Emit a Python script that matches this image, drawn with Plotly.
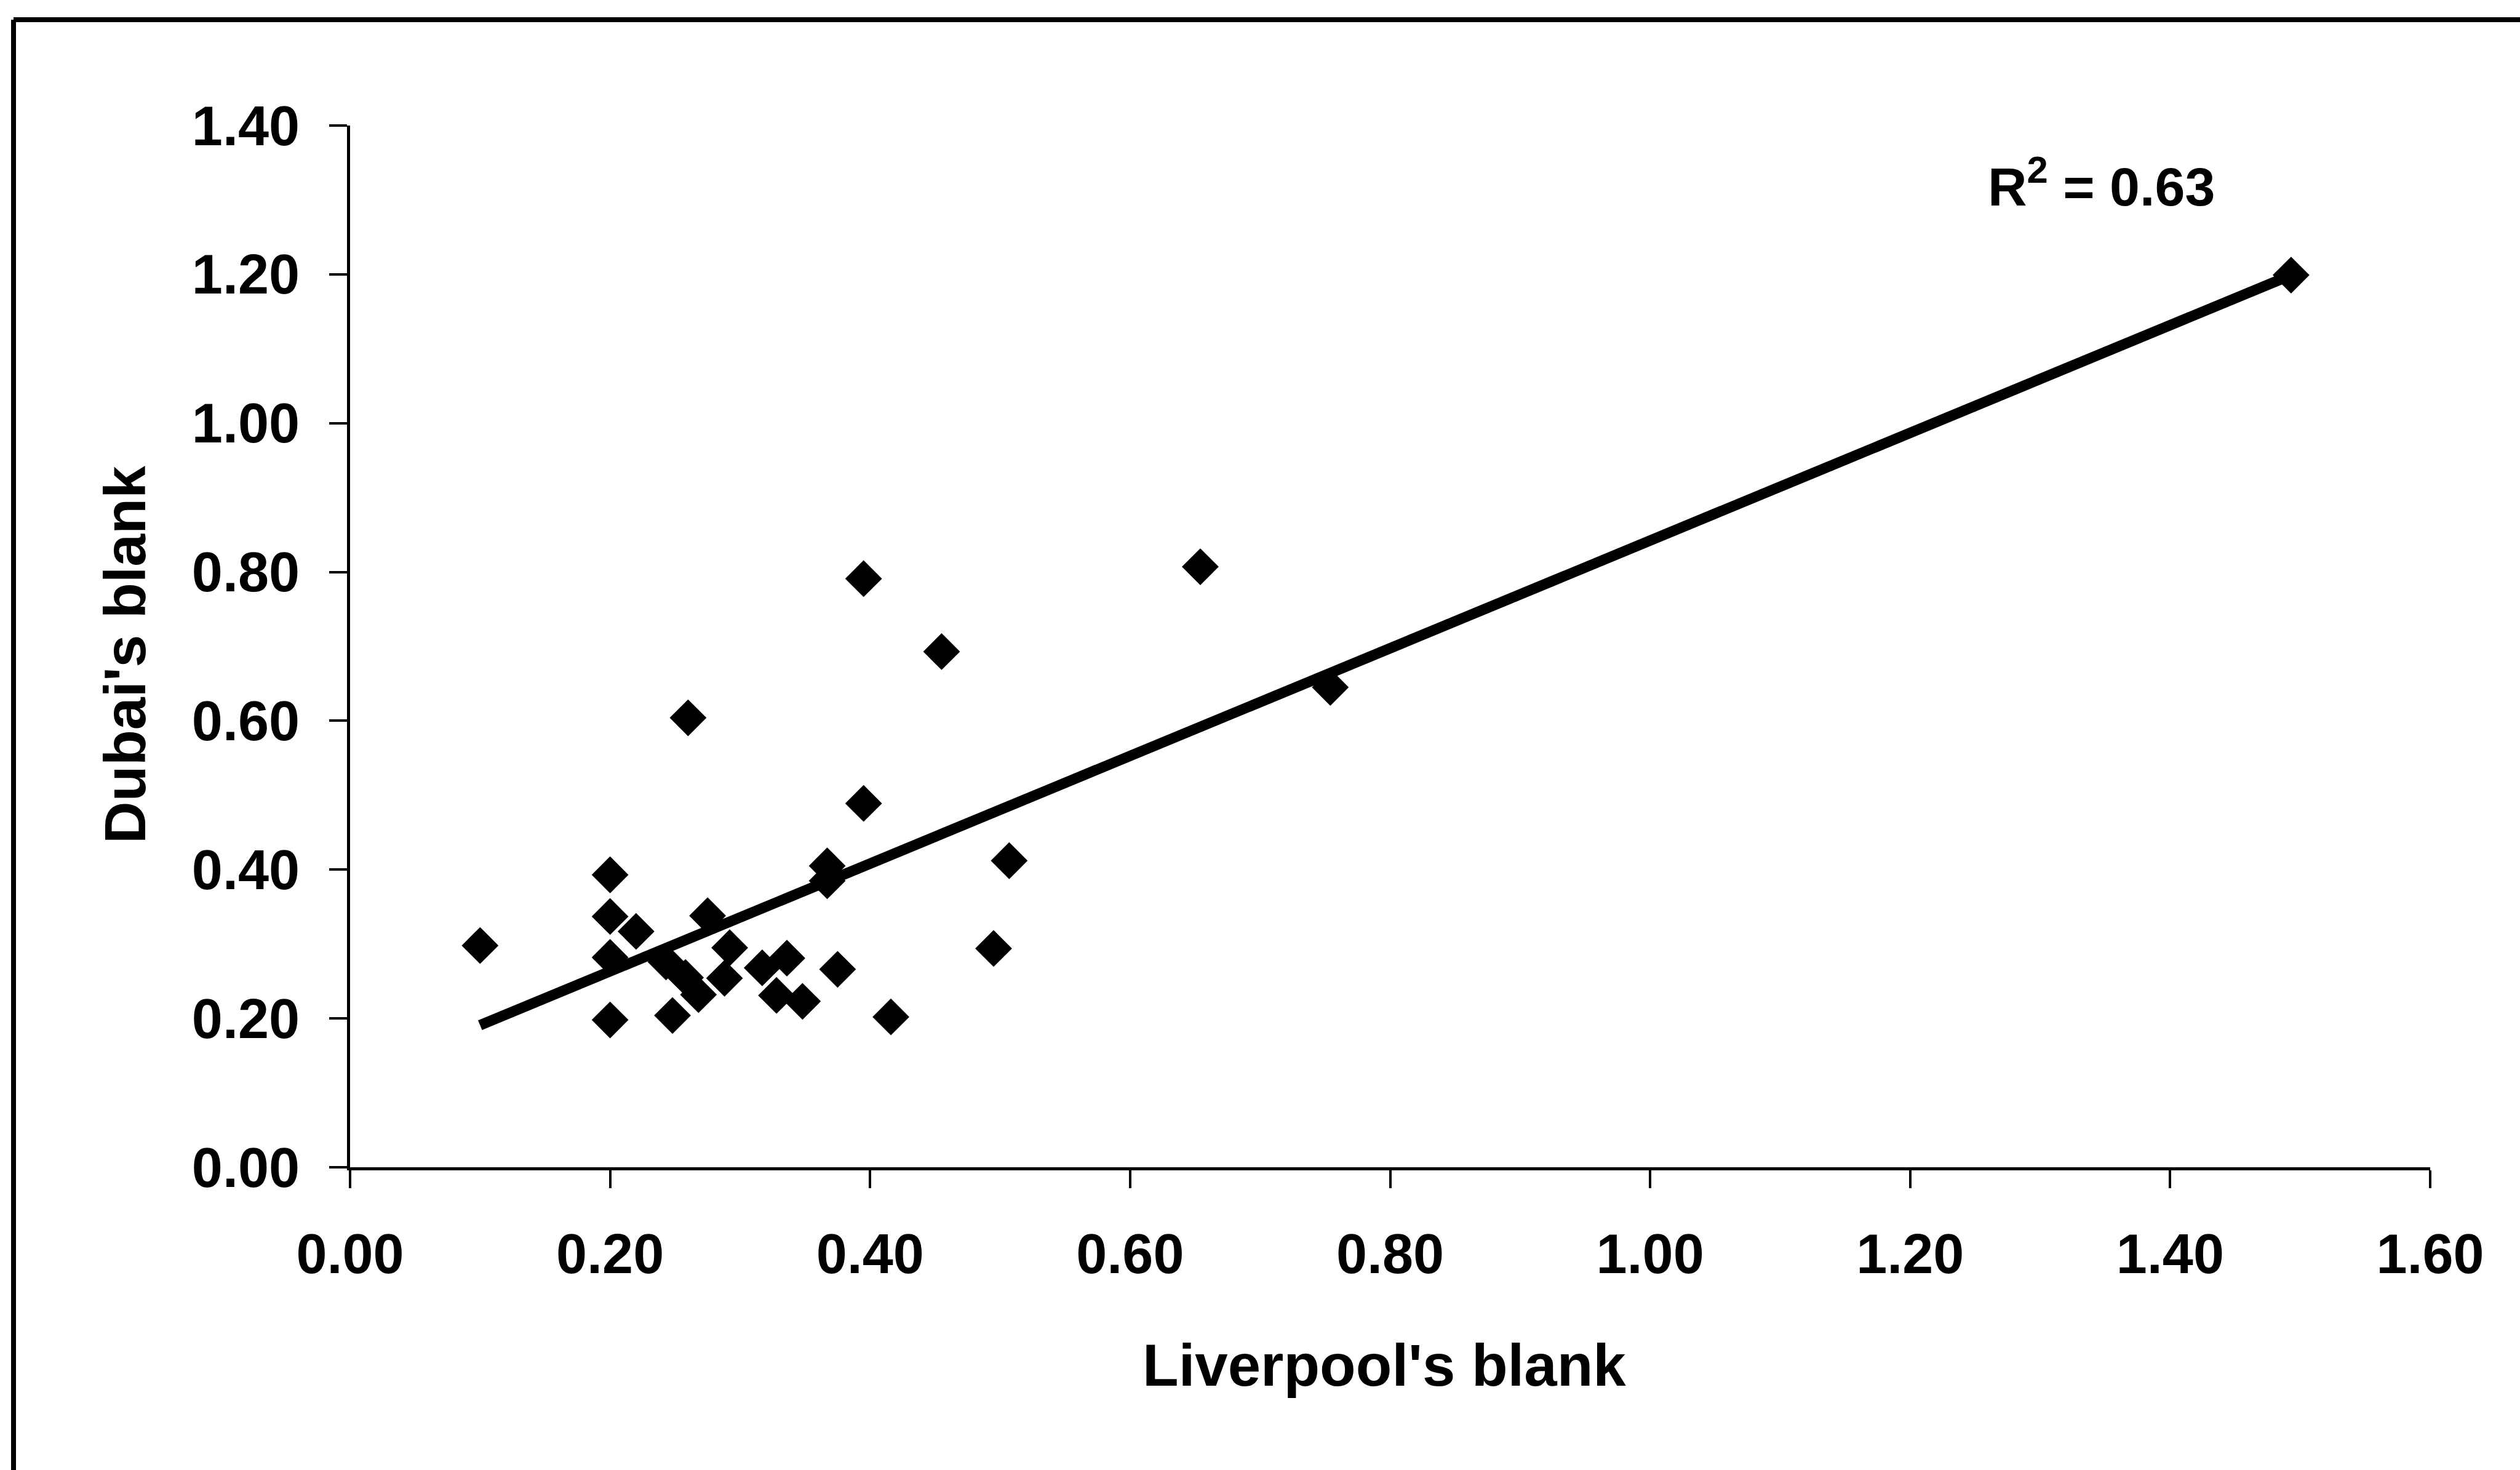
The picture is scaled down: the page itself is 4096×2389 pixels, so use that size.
import plotly.graph_objects as go

# ---- data ----
liverpool = [0.100, 0.200, 0.200, 0.200, 0.200, 0.220, 0.248, 0.260, 0.275, 0.292,
             0.288, 0.268, 0.243, 0.258, 0.317, 0.336, 0.328, 0.348, 0.375, 0.367,
             0.367, 0.395, 0.395, 0.416, 0.455, 0.495, 0.507, 0.654, 0.754, 1.493]
dubai = [0.298, 0.393, 0.337, 0.282, 0.198, 0.317, 0.204, 0.604, 0.338, 0.295,
         0.254, 0.232, 0.276, 0.255, 0.268, 0.281, 0.231, 0.223, 0.266, 0.405,
         0.385, 0.791, 0.489, 0.202, 0.693, 0.294, 0.412, 0.807, 0.645, 1.199]

trend_x = [0.10, 1.493]
trend_y = [0.191, 1.199]

x_title = "Liverpool's blank"
y_title = "Dubai's blank"
r2_text = "R<sup>2</sup> = 0.63"

x_range = [0, 1.6]
y_range = [0, 1.4]
tick_step = 0.2

# ---- layout geometry (output pixels) ----
W, H = 4096, 2389
L, R, T, B = 569, 146, 204, 492
PW = W - L - R
PH = H - T - B

def px_to_paper_x(px):
    return (px - L) / PW

def px_to_paper_y(py):
    return (H - B - py) / PH

FONT = "Liberation Sans, Arial, sans-serif"
tick_font = dict(family=FONT, size=90, color="black", weight="bold")
r2_font = dict(family=FONT, size=88, color="black", weight="bold")
xt_font = dict(family=FONT, size=96, color="black", weight="bold")
yt_font = dict(family=FONT, size=95, color="black", weight="bold")

fig = go.Figure()

fig.add_trace(go.Scatter(
    x=liverpool, y=dubai, mode="markers",
    marker=dict(symbol="diamond", size=46, color="black", line=dict(width=0)),
    showlegend=False, cliponaxis=False,
))

fig.add_trace(go.Scatter(
    x=trend_x, y=trend_y, mode="lines",
    line=dict(color="black", width=17),
    showlegend=False, cliponaxis=False,
))

axis_common = dict(
    showgrid=False, zeroline=False, showline=True,
    linecolor="black", linewidth=5,
    ticks="outside", ticklen=29, tickwidth=4, tickcolor="black",
    tickformat=".2f", tick0=0, dtick=tick_step,
    tickfont=tick_font,
)

fig.update_xaxes(range=x_range, ticklabelstandoff=30, **axis_common)
fig.update_yaxes(range=y_range, ticklabelstandoff=30, **axis_common)

fig.add_annotation(
    text=r2_text, xref="paper", yref="paper",
    x=px_to_paper_x(3229), y=px_to_paper_y(297),
    xanchor="left", yanchor="middle", showarrow=False,
    font=r2_font,
)
fig.add_annotation(
    text=x_title, xref="paper", yref="paper",
    x=px_to_paper_x(2250), y=px_to_paper_y(2218),
    xanchor="center", yanchor="middle", showarrow=False,
    font=xt_font,
)
fig.add_annotation(
    text=y_title, xref="paper", yref="paper",
    x=px_to_paper_x(203), y=px_to_paper_y(1064),
    xanchor="center", yanchor="middle", showarrow=False,
    textangle=-90, font=yt_font,
)

# outer frame (only top and left edges are visible in the reference)
frame_x = px_to_paper_x(22)
frame_y = px_to_paper_y(32)
fig.add_shape(type="line", xref="paper", yref="paper",
              x0=frame_x, x1=px_to_paper_x(W + 50), y0=frame_y, y1=frame_y,
              line=dict(color="black", width=8))
fig.add_shape(type="line", xref="paper", yref="paper",
              x0=frame_x, x1=frame_x, y0=frame_y, y1=px_to_paper_y(H + 50),
              line=dict(color="black", width=8))

fig.update_layout(
    width=W, height=H,
    margin=dict(l=L, r=R, t=T, b=B, autoexpand=False),
    paper_bgcolor="white", plot_bgcolor="white",
    showlegend=False,
)

fig.write_html("out.html")
